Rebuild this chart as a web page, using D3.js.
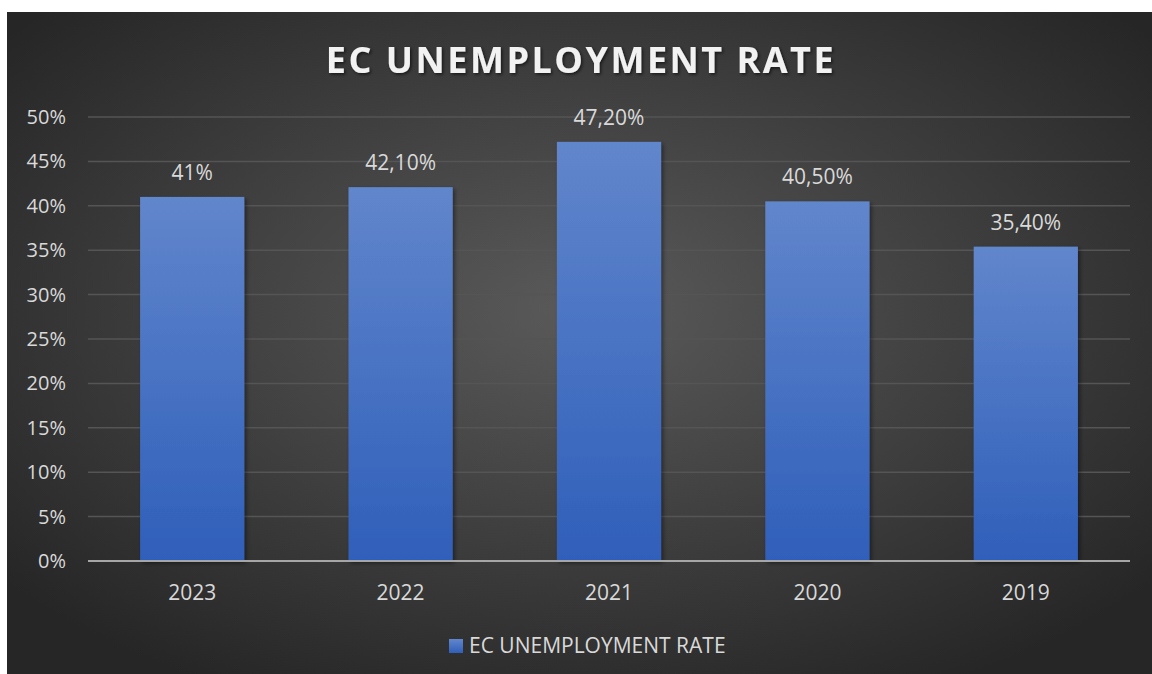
<!DOCTYPE html>
<html lang="en">
<head>
  <meta charset="UTF-8">
  <title>EC Unemployment Rate</title>
  <script src="https://cdn.jsdelivr.net/npm/d3@7/dist/d3.min.js"></script>
  <style>
    body { margin: 0; background: #ffffff; }
    svg { display: block; font-family: "Open Sans", sans-serif; }
  </style>
</head>
<body>
  <script>
    // data
    var years = ["2023", "2022", "2021", "2020", "2019"];
    var rates = [41, 42.1, 47.2, 40.5, 35.4];
    var rateLabels = ["41%", "42,10%", "47,20%", "40,50%", "35,40%"];
    var yTicks = [0, 5, 10, 15, 20, 25, 30, 35, 40, 45, 50];
    var seriesName = "EC UNEMPLOYMENT RATE";

    var width = 1152, height = 674;

    var svg = d3.select("body").append("svg")
      .attr("width", width)
      .attr("height", height);

    var defs = svg.append("defs");

    // background radial gradient
    var bg = defs.append("radialGradient")
      .attr("id", "bg")
      .attr("cx", "50%").attr("cy", "45%").attr("r", "65%");
    bg.append("stop").attr("offset", "0%").attr("stop-color", "#5a5a5a");
    bg.append("stop").attr("offset", "100%").attr("stop-color", "#262626");

    // bar gradient
    var bar = defs.append("linearGradient")
      .attr("id", "bar")
      .attr("x1", 0).attr("y1", 0).attr("x2", 0).attr("y2", 1);
    bar.append("stop").attr("offset", "0%").attr("stop-color", "#6186cc");
    bar.append("stop").attr("offset", "100%").attr("stop-color", "#2f5fba");

    var shadow = defs.append("filter").attr("id", "shadow")
      .attr("x", "-10%").attr("y", "-10%").attr("width", "130%").attr("height", "130%");
    shadow.append("feDropShadow")
      .attr("dx", 2).attr("dy", 2).attr("stdDeviation", 2)
      .attr("flood-color", "#000").attr("flood-opacity", 0.45);

    svg.append("rect")
      .attr("x", 7).attr("y", 12)
      .attr("width", width - 7).attr("height", height - 12)
      .attr("fill", "url(#bg)");

    // scales
    var x = d3.scaleBand()
      .domain(years)
      .range([88, 1130])
      .paddingInner(0.5)
      .paddingOuter(0.25);

    var y = d3.scaleLinear()
      .domain([0, 50])
      .range([561, 117]);

    // gridlines
    svg.append("g")
      .selectAll("line")
      .data(yTicks.filter(d => d > 0))
      .enter()
      .append("line")
      .attr("x1", 88).attr("x2", 1130)
      .attr("y1", d => y(d)).attr("y2", d => y(d))
      .attr("stroke", "#555555")
      .attr("stroke-width", 1.5);

    // y axis
    var axisY = d3.axisLeft(y)
      .tickValues(yTicks)
      .tickSize(0)
      .tickPadding(0)
      .tickFormat(d => d + "%");

    var gy = svg.append("g")
      .attr("transform", "translate(66,0)")
      .call(axisY);
    gy.select(".domain").remove();
    gy.selectAll("text")
      .attr("fill", "#d9d9d9")
      .attr("font-size", 20)
      .attr("font-family", "Open Sans, sans-serif");

    // bars
    svg.append("g")
      .selectAll("rect")
      .data(rates)
      .enter()
      .append("rect")
      .attr("x", (d, i) => x(years[i]))
      .attr("y", d => y(d))
      .attr("width", x.bandwidth())
      .attr("height", d => y(0) - y(d))
      .attr("fill", "url(#bar)")
      .attr("filter", "url(#shadow)");

    // value labels
    svg.append("g")
      .selectAll("text")
      .data(rates)
      .enter()
      .append("text")
      .attr("x", (d, i) => x(years[i]) + x.bandwidth() / 2)
      .attr("y", d => y(d) - 17)
      .attr("text-anchor", "middle")
      .attr("fill", "#d9d9d9")
      .attr("font-size", 21)
      .text((d, i) => rateLabels[i]);

    // x axis
    var axisX = d3.axisBottom(x).tickSize(0).tickPadding(0);
    var gx = svg.append("g")
      .attr("transform", "translate(0," + y(0) + ")")
      .call(axisX);
    gx.select(".domain")
      .attr("d", "M88,0H1130")
      .attr("stroke", "#a6a6a6")
      .attr("stroke-width", 2);
    gx.selectAll("text")
      .attr("fill", "#d9d9d9")
      .attr("font-size", 21)
      .attr("font-family", "Open Sans, sans-serif")
      .attr("y", 39)
      .attr("dy", 0);

    // title
    var titleShadow = defs.append("filter").attr("id", "tshadow");
    titleShadow.append("feDropShadow")
      .attr("dx", 1.5).attr("dy", 1.5).attr("stdDeviation", 1.5)
      .attr("flood-color", "#000").attr("flood-opacity", 0.6);

    svg.append("text")
      .attr("x", 581)
      .attr("y", 73)
      .attr("text-anchor", "middle")
      .attr("fill", "#f2f2f2")
      .attr("font-size", 36)
      .attr("font-weight", "bold")
      .attr("letter-spacing", 2.5)
      .attr("filter", "url(#tshadow)")
      .text(seriesName);

    // legend
    var legend = svg.append("g");
    legend.append("rect")
      .attr("x", 449).attr("y", 639)
      .attr("width", 14).attr("height", 14)
      .attr("fill", "url(#bar)");
    legend.append("text")
      .attr("x", 469).attr("y", 653)
      .attr("fill", "#d9d9d9")
      .attr("font-size", 21)
      .text(seriesName);
  </script>
</body>
</html>
